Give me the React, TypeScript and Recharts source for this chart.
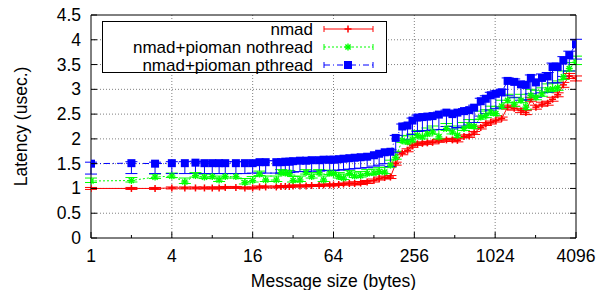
import { LineChart, Line, XAxis, YAxis, CartesianGrid, ErrorBar, Legend } from "recharts";

const FONT = "'Liberation Sans', Arial, Helvetica, sans-serif";
const FS = 17.5;

// message sizes (bytes)
const SIZES = [
  1, 2, 3, 4, 5, 6, 7, 8, 9, 10,
  12, 14, 16, 18, 20, 24, 26, 28, 30, 32,
  36, 40, 44, 50, 54, 60, 64, 70, 76, 84,
  92, 102, 114, 128, 140, 154, 170, 186, 208, 228,
  248, 270, 294, 320, 350, 390, 444, 492, 536, 600,
  656, 714, 800, 872, 950, 1036, 1144, 1268, 1420, 1594,
  1734, 1888, 2060, 2285, 2520, 2740, 2990, 3300, 3650, 4096,
];

const NMAD = [
  1.0, 1.0, 1.0, 1.01, 1.01, 1.01, 1.01, 1.01, 1.01, 1.02,
  1.02, 1.01, 1.01, 1.03, 1.03, 1.03, 1.04, 1.04, 1.04, 1.05,
  1.05, 1.05, 1.06, 1.06, 1.07, 1.07, 1.07, 1.08, 1.09, 1.1,
  1.1, 1.11, 1.13, 1.16, 1.2, 1.22, 1.23, 1.5, 1.71, 1.77,
  1.86, 1.9, 1.91, 1.92, 1.93, 1.96, 1.98, 1.98, 1.97, 2.05,
  2.06, 2.12, 2.23, 2.3, 2.33, 2.37, 2.41, 2.64, 2.62, 2.57,
  2.53, 2.8, 2.64, 2.7, 2.72, 2.8, 2.89, 3.09, 3.27, 3.22,
];

const NOTHREAD = [
  1.15, 1.16, 1.23, 1.25, 1.13, 1.26, 1.23, 1.24, 1.17, 1.24,
  1.24, 1.12, 1.16, 1.29, 1.17, 1.17, 1.32, 1.31, 1.3, 1.16,
  1.17, 1.32, 1.24, 1.32, 1.17, 1.31, 1.3, 1.24, 1.21, 1.3,
  1.25, 1.26, 1.3, 1.31, 1.34, 1.33, 1.47, 1.63, 1.97, 1.94,
  1.98, 2.07, 2.04, 2.1, 2.14, 2.04, 2.21, 2.14, 2.07, 2.21,
  2.27, 2.25, 2.44, 2.47, 2.54, 2.51, 2.66, 2.78, 2.7, 2.78,
  2.64, 2.88, 2.84, 2.91, 2.99, 3.01, 3.03, 3.25, 3.42, 3.55,
];

const PTHREAD = [
  1.5, 1.51, 1.5, 1.51, 1.51, 1.52, 1.51, 1.51, 1.51, 1.51,
  1.51, 1.51, 1.51, 1.53, 1.53, 1.53, 1.53, 1.54, 1.54, 1.55,
  1.56, 1.56, 1.57, 1.57, 1.58, 1.58, 1.58, 1.59, 1.6, 1.61,
  1.62, 1.63, 1.64, 1.67, 1.7, 1.73, 1.74, 2.02, 2.25, 2.27,
  2.37, 2.43, 2.44, 2.45, 2.46, 2.49, 2.53, 2.5, 2.53, 2.56,
  2.58, 2.63, 2.76, 2.81, 2.88, 2.91, 2.94, 3.17, 3.15, 3.1,
  3.09, 3.23, 3.14, 3.23, 3.26, 3.45, 3.45, 3.58, 3.69, 3.91,
];

// error deltas (below / above the mean)
const NMAD_ERR = [
  0.02, 0.02, 0.02, 0.02, 0.02, 0.02, 0.02, 0.02, 0.02, 0.02,
  0.02, 0.02, 0.02, 0.02, 0.02, 0.02, 0.02, 0.02, 0.02, 0.02,
  0.02, 0.02, 0.02, 0.02, 0.02, 0.02, 0.02, 0.02, 0.02, 0.03,
  0.03, 0.03, 0.03, 0.03, 0.03, 0.03, 0.03, 0.03, 0.03, 0.03,
  0.03, 0.03, 0.03, 0.03, 0.03, 0.03, 0.03, 0.03, 0.03, 0.03,
  0.03, 0.03, 0.03, 0.03, 0.03, 0.03, 0.03, 0.04, 0.04, 0.04,
  0.04, 0.04, 0.04, 0.04, 0.04, 0.04, 0.04, 0.05, 0.05, 0.05,
];

const NOTHREAD_LO = [
  0.03, 0.03, 0.03, 0.03, 0.03, 0.03, 0.03, 0.03, 0.03, 0.03,
  0.03, 0.03, 0.03, 0.03, 0.03, 0.03, 0.03, 0.03, 0.03, 0.03,
  0.03, 0.03, 0.03, 0.03, 0.03, 0.03, 0.03, 0.03, 0.03, 0.03,
  0.03, 0.03, 0.03, 0.03, 0.03, 0.03, 0.04, 0.04, 0.04, 0.04,
  0.04, 0.04, 0.04, 0.04, 0.04, 0.04, 0.04, 0.04, 0.04, 0.04,
  0.04, 0.04, 0.04, 0.04, 0.04, 0.04, 0.05, 0.05, 0.05, 0.05,
  0.05, 0.05, 0.05, 0.05, 0.05, 0.05, 0.05, 0.05, 0.05, 0.05,
];

const NOTHREAD_HI = [
  0.06, 0.06, 0.06, 0.06, 0.08, 0.06, 0.06, 0.06, 0.08, 0.06,
  0.06, 0.08, 0.08, 0.06, 0.08, 0.08, 0.06, 0.06, 0.06, 0.08,
  0.08, 0.06, 0.08, 0.06, 0.08, 0.06, 0.06, 0.08, 0.08, 0.06,
  0.08, 0.08, 0.08, 0.08, 0.08, 0.1, 0.1, 0.12, 0.1, 0.12,
  0.12, 0.1, 0.12, 0.12, 0.12, 0.15, 0.1, 0.12, 0.15, 0.12,
  0.12, 0.14, 0.12, 0.12, 0.12, 0.14, 0.12, 0.12, 0.14, 0.12,
  0.14, 0.12, 0.14, 0.12, 0.12, 0.12, 0.14, 0.12, 0.12, 0.12,
];

const PTHREAD_LO = [
  0.21, 0.21, 0.2, 0.21, 0.21, 0.22, 0.21, 0.21, 0.21, 0.21,
  0.21, 0.21, 0.2, 0.22, 0.22, 0.22, 0.22, 0.22, 0.22, 0.22,
  0.22, 0.22, 0.22, 0.22, 0.22, 0.22, 0.22, 0.22, 0.22, 0.22,
  0.22, 0.22, 0.22, 0.22, 0.23, 0.23, 0.3, 0.3, 0.28, 0.28,
  0.28, 0.28, 0.28, 0.28, 0.28, 0.3, 0.28, 0.3, 0.3, 0.3,
  0.3, 0.3, 0.3, 0.3, 0.3, 0.3, 0.3, 0.3, 0.32, 0.32,
  0.3, 0.32, 0.3, 0.3, 0.32, 0.32, 0.32, 0.32, 0.32, 0.3,
];

const PTHREAD_HI = [
  0.03, 0.03, 0.03, 0.03, 0.03, 0.03, 0.03, 0.03, 0.03, 0.03,
  0.03, 0.03, 0.03, 0.03, 0.03, 0.03, 0.03, 0.03, 0.03, 0.03,
  0.03, 0.03, 0.03, 0.03, 0.03, 0.03, 0.03, 0.03, 0.03, 0.03,
  0.03, 0.03, 0.03, 0.03, 0.03, 0.03, 0.04, 0.05, 0.05, 0.05,
  0.05, 0.05, 0.05, 0.05, 0.05, 0.05, 0.05, 0.05, 0.05, 0.05,
  0.05, 0.05, 0.06, 0.06, 0.06, 0.06, 0.06, 0.06, 0.06, 0.06,
  0.06, 0.06, 0.06, 0.08, 0.08, 0.08, 0.08, 0.08, 0.08, 0.1,
];

const X_TICKS = [1, 2, 4, 8, 16, 32, 64, 128, 256, 512, 1024, 2048, 4096];
const X_MAJOR = [1, 4, 16, 64, 256, 1024, 4096];
const X_GRID = [4, 16, 64, 256, 1024];
const Y_TICKS = [0, 0.5, 1, 1.5, 2, 2.5, 3, 3.5, 4, 4.5];
const Y_GRID = [0.5, 1, 1.5, 2, 2.5, 3, 3.5, 4];

const RED = "#ff0000";
const GREEN = "#00ff00";
const BLUE = "#0000ff";

const data = SIZES.map((size, i) => ({
  size,
  nmad: NMAD[i],
  nothread: NOTHREAD[i],
  pthread: PTHREAD[i],
  nmadErr: [NMAD_ERR[i], NMAD_ERR[i]],
  nothreadErr: [NOTHREAD_LO[i], NOTHREAD_HI[i]],
  pthreadErr: [PTHREAD_LO[i], PTHREAD_HI[i]],
}));

// point markers
const Plus = ({ cx, cy }: any) => (
  <g>
    <line x1={cx - 3.5} x2={cx + 3.5} y1={cy} y2={cy} stroke={RED} strokeWidth={1.5} />
    <line x1={cx} x2={cx} y1={cy - 3.5} y2={cy + 3.5} stroke={RED} strokeWidth={1.5} />
  </g>
);

const Star = ({ cx, cy }: any) => (
  <g stroke={GREEN} strokeWidth={1.4}>
    <line x1={cx - 3.5} x2={cx + 3.5} y1={cy} y2={cy} />
    <line x1={cx} x2={cx} y1={cy - 3.5} y2={cy + 3.5} />
    <line x1={cx - 2.6} x2={cx + 2.6} y1={cy - 2.6} y2={cy + 2.6} />
    <line x1={cx - 2.6} x2={cx + 2.6} y1={cy + 2.6} y2={cy - 2.6} />
  </g>
);

const Square = ({ cx, cy }: any) => (
  <rect x={cx - 4} y={cy - 4} width={8} height={8} fill={BLUE} />
);

const dotOf = (Marker: any) => (p: any) =>
  p.cx == null || p.cy == null ? <g key={p.index} /> : <Marker key={p.index} cx={p.cx} cy={p.cy} />;

const SERIES = [
  { key: "nmad", name: "nmad", color: RED, dash: undefined, Marker: Plus },
  { key: "nothread", name: "nmad+pioman nothread", color: GREEN, dash: "2 2", Marker: Star },
  { key: "pthread", name: "nmad+pioman pthread", color: BLUE, dash: "6 3 1 3", Marker: Square },
];

// ticks drawn inward, gnuplot style
const BottomTick = (p: any) => {
  const v = p.payload.value;
  const major = X_MAJOR.includes(v);
  return (
    <g>
      <line x1={p.x} x2={p.x} y1={p.y} y2={p.y - (major ? 6 : 3)} stroke="#000" />
      {major && (
        <text x={p.x} y={p.y + 24} textAnchor="middle" fontSize={FS} fontFamily={FONT} fill="#000">
          {v}
        </text>
      )}
    </g>
  );
};

const TopTick = (p: any) => {
  const major = X_MAJOR.includes(p.payload.value);
  return <line x1={p.x} x2={p.x} y1={p.y} y2={p.y + (major ? 6 : 3)} stroke="#000" />;
};

const LeftTick = (p: any) => (
  <g>
    <line x1={p.x} x2={p.x + 6} y1={p.y} y2={p.y} stroke="#000" />
    <text x={p.x - 10} y={p.y + 6} textAnchor="end" fontSize={FS} fontFamily={FONT} fill="#000">
      {String(p.payload.value)}
    </text>
  </g>
);

const RightTick = (p: any) => <line x1={p.x} x2={p.x - 6} y1={p.y} y2={p.y} stroke="#000" />;

const XTitle = (p: any) => {
  const vb = p.viewBox ?? { x: 91, y: 238, width: 485, height: 40 };
  return (
    <text x={vb.x + vb.width / 2} y={vb.y + 49} textAnchor="middle" fontSize={FS} fontFamily={FONT} fill="#000">
      Message size (bytes)
    </text>
  );
};

const YTitle = (p: any) => {
  const vb = p.viewBox ?? { x: 31, y: 15, width: 60, height: 223 };
  const x = vb.x - 4;
  const y = vb.y + vb.height / 2;
  return (
    <text x={x} y={y} transform={`rotate(-90 ${x} ${y})`} textAnchor="middle" fontSize={FS} fontFamily={FONT} fill="#000">
      Latency (usec.)
    </text>
  );
};

const LegendBox = () => (
  <svg width={286} height={53} style={{ display: "block" }}>
    <rect x={0.5} y={0.5} width={284} height={51} fill="#fff" stroke="#000" />
    {SERIES.map((s, i) => {
      const y = 8 + i * 18;
      const M = s.Marker;
      return (
        <g key={s.key}>
          <text x={211} y={y + 6} textAnchor="end" fontSize={17} fontFamily={FONT} fill="#000">
            {s.name}
          </text>
          <line x1={222} x2={271} y1={y} y2={y} stroke={s.color} strokeDasharray={s.dash} />
          <line x1={222} x2={222} y1={y - 3} y2={y + 3} stroke={s.color} />
          <line x1={271} x2={271} y1={y - 3} y2={y + 3} stroke={s.color} />
          <M cx={246} cy={y} />
        </g>
      );
    })}
  </svg>
);

export default function App() {
  return (
    <div style={{ position: "absolute", left: 0, top: 0, background: "#fff" }}>
      <LineChart width={598} height={290} data={data} margin={{ top: 14, right: 21, bottom: 12, left: 31 }}>
        <CartesianGrid
          horizontalValues={Y_GRID}
          verticalValues={X_GRID}
          stroke="#808080"
          strokeDasharray="1 2"
        />
        <XAxis
          dataKey="size"
          type="number"
          scale="log"
          domain={[1, 4096]}
          allowDataOverflow
          ticks={X_TICKS}
          interval={0}
          tickSize={0}
          tickMargin={0}
          tick={<BottomTick />}
          axisLine={{ stroke: "#000" }}
          height={40}
          label={{ content: XTitle }}
        />
        <XAxis
          xAxisId="top"
          orientation="top"
          type="number"
          scale="log"
          domain={[1, 4096]}
          allowDataOverflow
          ticks={X_TICKS}
          interval={0}
          tickSize={0}
          tickMargin={0}
          tick={<TopTick />}
          axisLine={{ stroke: "#000" }}
          height={1}
        />
        <YAxis
          type="number"
          domain={[0, 4.5]}
          allowDataOverflow
          ticks={Y_TICKS}
          interval={0}
          tickSize={0}
          tickMargin={0}
          tick={<LeftTick />}
          axisLine={{ stroke: "#000" }}
          width={60}
          label={{ content: YTitle }}
        />
        <YAxis
          yAxisId="right"
          orientation="right"
          type="number"
          domain={[0, 4.5]}
          allowDataOverflow
          ticks={Y_TICKS}
          interval={0}
          tickSize={0}
          tickMargin={0}
          tick={<RightTick />}
          axisLine={{ stroke: "#000" }}
          width={1}
        />
        <Legend
          layout="horizontal"
          verticalAlign="middle"
          align="center"
          content={<LegendBox />}
          wrapperStyle={{ position: "absolute", left: 102, top: 21, width: 286, height: 53 }}
        />
        {SERIES.map((s) => (
          <Line
            key={s.key}
            type="linear"
            dataKey={s.key}
            name={s.name}
            stroke={s.color}
            strokeWidth={1}
            strokeDasharray={s.dash}
            dot={dotOf(s.Marker)}
            activeDot={false}
            isAnimationActive={false}
          >
            <ErrorBar dataKey={`${s.key}Err`} width={6} stroke={s.color} strokeWidth={1} direction="y" isAnimationActive={false} />
          </Line>
        ))}
      </LineChart>
    </div>
  );
}
